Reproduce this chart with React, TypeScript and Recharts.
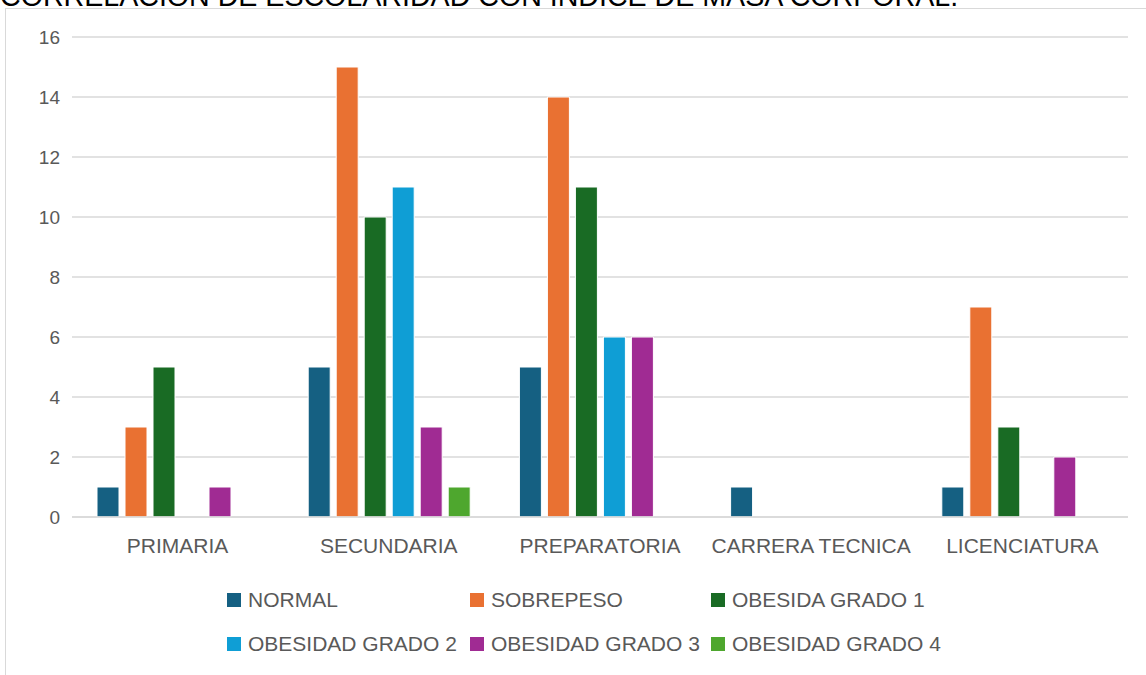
import React from "react";
import { BarChart, Bar, XAxis, YAxis, CartesianGrid, Legend } from "recharts";

// Education levels (x categories)
const categories = ["PRIMARIA", "SECUNDARIA", "PREPARATORIA", "CARRERA TECNICA", "LICENCIATURA"];

// BMI groups, one array per series (counts per education level)
const normal = [1, 5, 5, 1, 1];
const sobrepeso = [3, 15, 14, 0, 7];
const obesidadG1 = [5, 10, 11, 0, 3];
const obesidadG2 = [0, 11, 6, 0, 0];
const obesidadG3 = [1, 3, 6, 0, 2];
const obesidadG4 = [0, 1, 0, 0, 0];

const yTicks = [0, 2, 4, 6, 8, 10, 12, 14, 16];

const series = [
  { key: "normal", name: "NORMAL", color: "#156082", values: normal },
  { key: "sobrepeso", name: "SOBREPESO", color: "#E97132", values: sobrepeso },
  { key: "g1", name: "OBESIDA GRADO 1", color: "#196B24", values: obesidadG1 },
  { key: "g2", name: "OBESIDAD GRADO 2", color: "#0F9ED5", values: obesidadG2 },
  { key: "g3", name: "OBESIDAD GRADO 3", color: "#A02B93", values: obesidadG3 },
  { key: "g4", name: "OBESIDAD GRADO 4", color: "#4EA72E", values: obesidadG4 },
];

const data = categories.map((cat, i) => {
  const row: Record<string, string | number> = { cat };
  series.forEach((s) => {
    row[s.key] = s.values[i];
  });
  return row;
});

const FONT = "'Liberation Sans', Arial, sans-serif";
const TEXT = "#595959";

function LegendGrid() {
  return (
    <div
      style={{
        height: 108,
        boxSizing: "border-box",
        paddingTop: 11,
        paddingLeft: 227,
        display: "grid",
        gridTemplateColumns: "243px 241px 300px",
        gridAutoRows: "44px",
        fontFamily: FONT,
        fontSize: 21,
        color: TEXT,
      }}
    >
      {series.map((s) => (
        <div key={s.key} style={{ display: "flex", alignItems: "center", whiteSpace: "nowrap" }}>
          <span
            style={{
              display: "inline-block",
              width: 14,
              height: 14,
              background: s.color,
              marginRight: 7,
            }}
          />
          <span>{s.name}</span>
        </div>
      ))}
    </div>
  );
}

export default function App() {
  return (
    <div
      style={{
        position: "absolute",
        left: 0,
        top: 0,
        width: 1146,
        height: 675,
        overflow: "hidden",
        background: "#ffffff",
      }}
    >
      <div
        style={{
          position: "absolute",
          left: 0,
          top: -18,
          fontFamily: FONT,
          fontSize: 28.6,
          lineHeight: "28px",
          color: "#000",
          whiteSpace: "nowrap",
        }}
      >
        CORRELACION DE ESCOLARIDAD CON INDICE DE MASA CORPORAL.
      </div>
      <div
        style={{
          position: "absolute",
          left: 5,
          top: 8,
          width: 1200,
          height: 700,
          border: "1px solid #D9D9D9",
          boxSizing: "border-box",
        }}
      />
      <div style={{ position: "absolute", left: 0, top: 0 }}>
        <BarChart
          width={1146}
          height={675}
          data={data}
          margin={{ top: 37, right: 18, left: 0, bottom: 0 }}
          barSize={22}
          barGap={6}
        >
          <CartesianGrid vertical={false} stroke="#D9D9D9" strokeWidth={1.3} />
          <XAxis
            dataKey="cat"
            height={50}
            tickLine={false}
            tickSize={0}
            tickMargin={21}
            axisLine={{ stroke: "#D9D9D9", strokeWidth: 1.3 }}
            tick={{ fill: TEXT, fontSize: 21, fontFamily: FONT }}
            interval={0}
          />
          <YAxis
            width={72}
            domain={[0, 16]}
            ticks={yTicks}
            axisLine={false}
            tickLine={false}
            tickSize={0}
            tickMargin={12}
            tick={{ fill: TEXT, fontSize: 19, fontFamily: FONT }}
          />
          <Legend verticalAlign="bottom" content={() => <LegendGrid />} wrapperStyle={{ left: 0, width: 1146 }} />
          {series.map((s) => (
            <Bar
              key={s.key}
              dataKey={s.key}
              name={s.name}
              fill={s.color}
              stroke="#ffffff"
              strokeWidth={1}
              isAnimationActive={false}
            />
          ))}
        </BarChart>
      </div>
    </div>
  );
}
